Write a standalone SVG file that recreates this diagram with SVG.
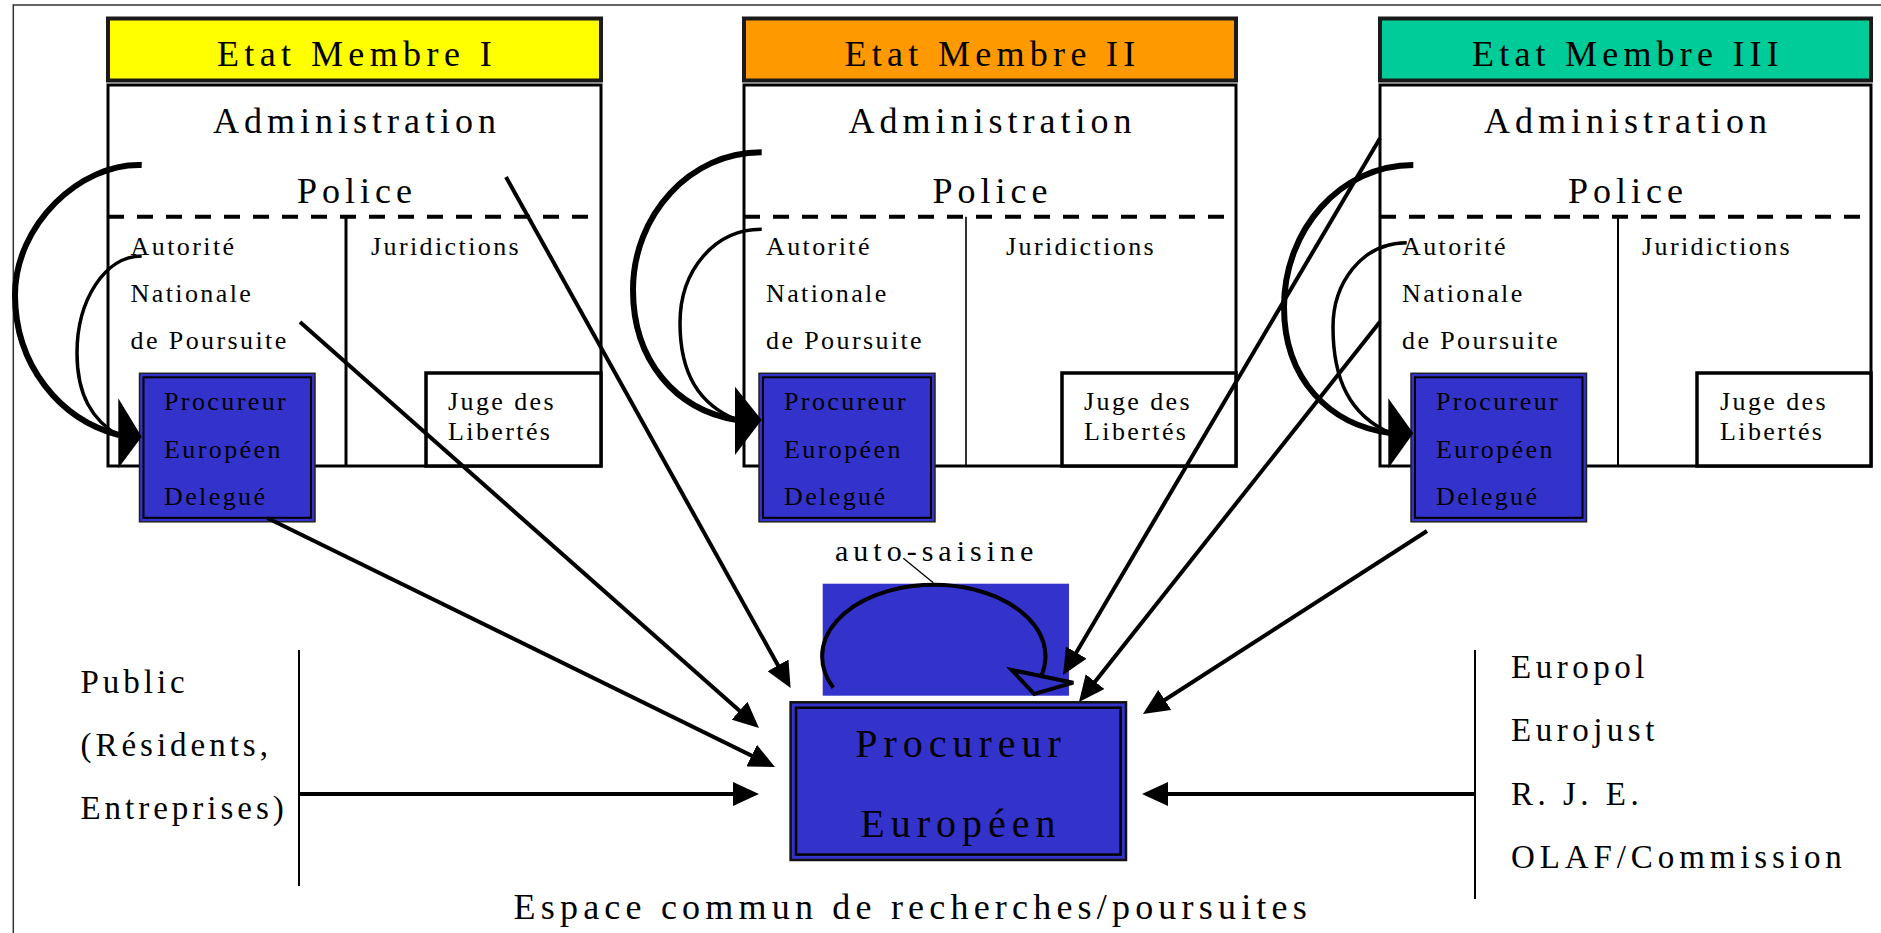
<svg xmlns="http://www.w3.org/2000/svg" width="1881" height="933" viewBox="0 0 1881 933">
<defs>
<style>
.frame{fill:none;stroke:#333;stroke-width:1.5}
.hdr{stroke:#1a1a1a;stroke-width:4}
.body{fill:#fff;stroke:#000;stroke-width:3}
.dash{fill:none;stroke:#000;stroke-width:4;stroke-dasharray:16 13}
.div{fill:none;stroke:#000;stroke-width:3}
.juge{fill:#fff;stroke:#000;stroke-width:3.5}
.ped{fill:#3333cc;stroke:#222;stroke-width:1.5}
.pedin{fill:none;stroke:#000;stroke-width:2}
.big{font-family:'Liberation Serif','Times New Roman',serif;font-size:36px;letter-spacing:5px;fill:#000}
.mid{font-family:'Liberation Serif','Times New Roman',serif;font-size:33px;letter-spacing:4.5px;fill:#000}
.sm{font-family:'Liberation Serif','Times New Roman',serif;font-size:26px;letter-spacing:2.4px;fill:#000}
.ctr{text-anchor:middle}
.con{fill:none;stroke:#000;stroke-width:4}
.thick{fill:none;stroke:#000;stroke-width:6}
.thin{fill:none;stroke:#000;stroke-width:3.5}
.vl{fill:none;stroke:#000;stroke-width:2}
</style>
<marker id="ah" markerUnits="userSpaceOnUse" markerWidth="26" markerHeight="24" refX="20" refY="12" orient="auto">
<path d="M0,0 L26,12 L0,24 z" fill="#000"/>
</marker>
</defs>
<rect width="1881" height="933" fill="#fff"/>
<path class="frame" d="M13.3,933 V5 H1881"/>

<g id="etat1">
<rect x="108" y="85" width="493" height="381" class="body"/>
<rect x="108" y="18.5" width="493" height="62" fill="#ffff00" class="hdr"/>
<text x="357" y="66" class="big ctr" style="letter-spacing:5.4px">Etat Membre I</text>
<text x="357" y="132.6" class="big ctr">Administration</text>
<text x="357" y="203" class="big ctr">Police</text>
<line x1="108" y1="216.7" x2="601" y2="216.7" class="dash"/>
<line x1="346" y1="216.7" x2="346" y2="466" class="div"/>
<text x="130.6" y="255" class="sm">Autorité</text>
<text x="130.6" y="302" class="sm">Nationale</text>
<text x="130.6" y="349" class="sm">de Poursuite</text>
<text x="371" y="255" class="sm">Juridictions</text>
<rect x="426" y="373" width="175" height="93" class="juge"/>
<text x="448" y="410" class="sm">Juge des</text>
<text x="448" y="440" class="sm">Libertés</text>
</g>
<g id="ped1">
<rect x="139.5" y="373.3" width="175.5" height="148.5" class="ped"/>
<rect x="143.5" y="377.3" width="167.5" height="140.5" class="pedin"/>
<text x="164" y="410" class="sm">Procureur</text>
<text x="164" y="458" class="sm">Européen</text>
<text x="164" y="505" class="sm">Delegué</text>
</g>

<g id="etat2">
<rect x="744" y="85" width="492" height="381" class="body"/>
<rect x="744" y="18.5" width="492" height="62" fill="#ff9900" class="hdr"/>
<text x="992.5" y="66" class="big ctr" style="letter-spacing:5.3px">Etat Membre II</text>
<text x="992.5" y="132.6" class="big ctr">Administration</text>
<text x="992.5" y="203" class="big ctr">Police</text>
<line x1="744" y1="216.7" x2="1236" y2="216.7" class="dash"/>
<line x1="966" y1="216.7" x2="966" y2="466" class="div" style="stroke-width:1.6"/>
<text x="766" y="255" class="sm">Autorité</text>
<text x="766" y="302" class="sm">Nationale</text>
<text x="766" y="349" class="sm">de Poursuite</text>
<text x="1006" y="255" class="sm">Juridictions</text>
<rect x="1062" y="373" width="174" height="93" class="juge"/>
<text x="1084" y="410" class="sm">Juge des</text>
<text x="1084" y="440" class="sm">Libertés</text>
</g>
<g id="ped2">
<rect x="759" y="373.3" width="176" height="148.5" class="ped"/>
<rect x="763" y="377.3" width="168" height="140.5" class="pedin"/>
<text x="784" y="410" class="sm">Procureur</text>
<text x="784" y="458" class="sm">Européen</text>
<text x="784" y="505" class="sm">Delegué</text>
</g>

<g id="etat3">
<rect x="1380" y="85" width="491" height="381" class="body"/>
<rect x="1380" y="18.5" width="491" height="62" fill="#00cc99" class="hdr"/>
<text x="1628" y="66" class="big ctr" style="letter-spacing:5.2px">Etat Membre III</text>
<text x="1628" y="132.6" class="big ctr">Administration</text>
<text x="1628" y="203" class="big ctr">Police</text>
<line x1="1380" y1="216.7" x2="1871" y2="216.7" class="dash"/>
<line x1="1618" y1="216.7" x2="1618" y2="466" class="div" style="stroke-width:2"/>
<text x="1402" y="255" class="sm">Autorité</text>
<text x="1402" y="302" class="sm">Nationale</text>
<text x="1402" y="349" class="sm">de Poursuite</text>
<text x="1642" y="255" class="sm">Juridictions</text>
<rect x="1697" y="373" width="174" height="93" class="juge"/>
<text x="1720" y="410" class="sm">Juge des</text>
<text x="1720" y="440" class="sm">Libertés</text>
</g>
<g id="ped3">
<rect x="1411" y="373.3" width="175.5" height="148.5" class="ped"/>
<rect x="1415" y="377.3" width="167.5" height="140.5" class="pedin"/>
<text x="1436" y="410" class="sm">Procureur</text>
<text x="1436" y="458" class="sm">Européen</text>
<text x="1436" y="505" class="sm">Delegué</text>
</g>

<g id="public">
<text x="80.4" y="693" class="mid" style="letter-spacing:4px">Public</text>
<text x="80.4" y="756" class="mid" style="letter-spacing:4px">(Résidents,</text>
<text x="80.4" y="819" class="mid" style="letter-spacing:4px">Entreprises)</text>
<line x1="299" y1="650" x2="299" y2="886" class="vl"/>
</g>

<g id="organes">
<text x="1511" y="678" class="mid">Europol</text>
<text x="1511" y="741" class="mid">Eurojust</text>
<text x="1511" y="805" class="mid">R. J. E.</text>
<text x="1511" y="868" class="mid" style="letter-spacing:4.9px">OLAF/Commission</text>
<line x1="1475" y1="650" x2="1475" y2="899" class="vl"/>
</g>

<g id="auto-saisine">
<rect x="822.7" y="583.7" width="246.3" height="112" fill="#3333cc"/>
<text x="835" y="560.7" class="mid" style="font-size:30px;letter-spacing:5px">auto-saisine</text>
<line x1="903.3" y1="558.3" x2="933.3" y2="582.7" stroke="#000" stroke-width="1.3"/>
<path d="M833.3,687.7 A111.7,71.7 0 1 1 1041.7,675" class="con"/>
<polygon points="1011.7,670 1073.3,682.7 1034.3,694" fill="none" stroke="#000" stroke-width="4" stroke-linejoin="miter"/>
</g>

<g id="procureur-europeen">
<rect x="790.6" y="702.3" width="335.4" height="157.7" fill="#3333cc" stroke="#111" stroke-width="2.5"/>
<rect x="796" y="707.7" width="324.6" height="146.9" fill="none" stroke="#000" stroke-width="2.5"/>
<text x="961" y="757" class="big ctr" style="font-size:40px;letter-spacing:6px">Procureur</text>
<text x="961" y="837" class="big ctr" style="font-size:40px;letter-spacing:6px">Européen</text>
</g>

<text x="513.6" y="919" class="big" style="letter-spacing:5.2px">Espace commun de recherches/poursuites</text>

<g id="connectors">
<path class="thick" d="M141.7,165 C80,163 15,225 15,295 C15,365 60,420 119,435"/>
<path class="thin" d="M141.7,256 C105,256 77,300 77,353 C77,395 92,420 119,436"/>
<polygon points="118.3,398.3 141.7,436.7 118.3,468.3" fill="#000"/>

<path class="thick" d="M761.7,152.3 C690,152 633,215 633,290 C633,360 675,410 737,420"/>
<path class="thin" d="M761.7,229.3 C715,229 680,270 680,323 C680,375 700,405 737,420"/>
<polygon points="735,386.7 761.7,420 735,455" fill="#000"/>

<path class="thick" d="M1413.3,165 C1340,165 1284,230 1284,307 C1284,380 1330,425 1390,433"/>
<path class="thin" d="M1406.7,242.7 C1360,243 1333,285 1333,327 C1333,380 1350,415 1390,433"/>
<polygon points="1388.3,398.3 1413.3,433.3 1388.3,468.3" fill="#000"/>

<line x1="267.3" y1="518" x2="769.6" y2="764.4" class="con" marker-end="url(#ah)"/>
<line x1="300" y1="322" x2="754.5" y2="724" class="con" marker-end="url(#ah)"/>
<line x1="506" y1="177" x2="787.7" y2="682.8" class="con" marker-end="url(#ah)"/>
<line x1="1380" y1="138.3" x2="1066.1" y2="669.8" class="con" marker-end="url(#ah)"/>
<line x1="1380" y1="321.7" x2="1082.7" y2="697.3" class="con" marker-end="url(#ah)"/>
<line x1="1427" y1="531" x2="1148" y2="710.8" class="con" marker-end="url(#ah)"/>
<line x1="299" y1="794" x2="753" y2="794" class="con" marker-end="url(#ah)"/>
<line x1="1475" y1="794" x2="1148" y2="794" class="con" marker-end="url(#ah)"/>
</g>
</svg>
